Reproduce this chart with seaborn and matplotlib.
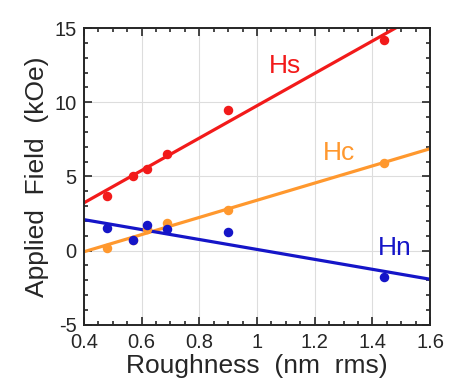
import numpy as np
import pandas as pd
import seaborn as sns
import matplotlib.pyplot as plt
from matplotlib.ticker import MultipleLocator

# --- data ---
roughness = [0.48, 0.57, 0.62, 0.69, 0.90, 1.44]
hs = [3.7, 5.0, 5.5, 6.5, 9.5, 14.2]
hc = [0.2, 0.7, 1.45, 1.85, 2.75, 5.9]
hn = [1.55, 0.7, 1.7, 1.45, 1.25, -1.8]

series_names = ["Hs", "Hc", "Hn"]
series_colors = ["#f21a1a", "#ff982e", "#1515c8"]

df = pd.DataFrame({"Roughness": roughness, "Hs": hs, "Hc": hc, "Hn": hn})

sns.set_style("ticks")
plt.rcParams["font.family"] = ["Liberation Sans", "DejaVu Sans"]
plt.rcParams["axes.unicode_minus"] = False

fig = plt.figure(figsize=(4.63, 3.84), dpi=100)
ax = fig.add_axes([0.181, 0.154, 0.748, 0.773])
ax.set_xlim(0.4, 1.6)
ax.set_ylim(-5, 15)

for name, color in zip(series_names, series_colors):
    sns.regplot(data=df, x="Roughness", y=name, ax=ax, ci=None, truncate=False,
                color=color, scatter_kws={"s": 34, "alpha": 1, "zorder": 3},
                line_kws={"lw": 2.3, "zorder": 2})

ax.set_xlim(0.4, 1.6)
ax.set_ylim(-5, 15)

# labels next to the lines
ax.text(1.04, 12.0, "Hs", color=series_colors[0], fontsize=19)
ax.text(1.23, 6.1, "Hc", color=series_colors[1], fontsize=19)
ax.text(1.42, -0.3, "Hn", color=series_colors[2], fontsize=19)

ax.xaxis.set_major_locator(MultipleLocator(0.2))
ax.xaxis.set_minor_locator(MultipleLocator(0.05))
ax.yaxis.set_major_locator(MultipleLocator(5))
ax.yaxis.set_minor_locator(MultipleLocator(1))
ax.set_xticks([0.4, 0.6, 0.8, 1.0, 1.2, 1.4, 1.6])
ax.set_xticklabels(["0.4", "0.6", "0.8", "1", "1.2", "1.4", "1.6"])
ax.tick_params(which="both", direction="in", top=True, right=True, width=1.2,
               labelsize=14.5)
ax.tick_params(axis="x", pad=6)
ax.tick_params(axis="y", pad=5)
ax.tick_params(which="major", length=6)
ax.tick_params(which="minor", length=3)
ax.grid(True, which="major", color="#dddddd", lw=0.8)
ax.set_axisbelow(True)
for sp in ax.spines.values():
    sp.set_linewidth(1.4)

ax.set_xlabel("Roughness  (nm  rms)", fontsize=19, labelpad=1)
ax.set_ylabel("Applied  Field  (kOe)", fontsize=19, labelpad=4)

fig.savefig("out.png", dpi=100)
